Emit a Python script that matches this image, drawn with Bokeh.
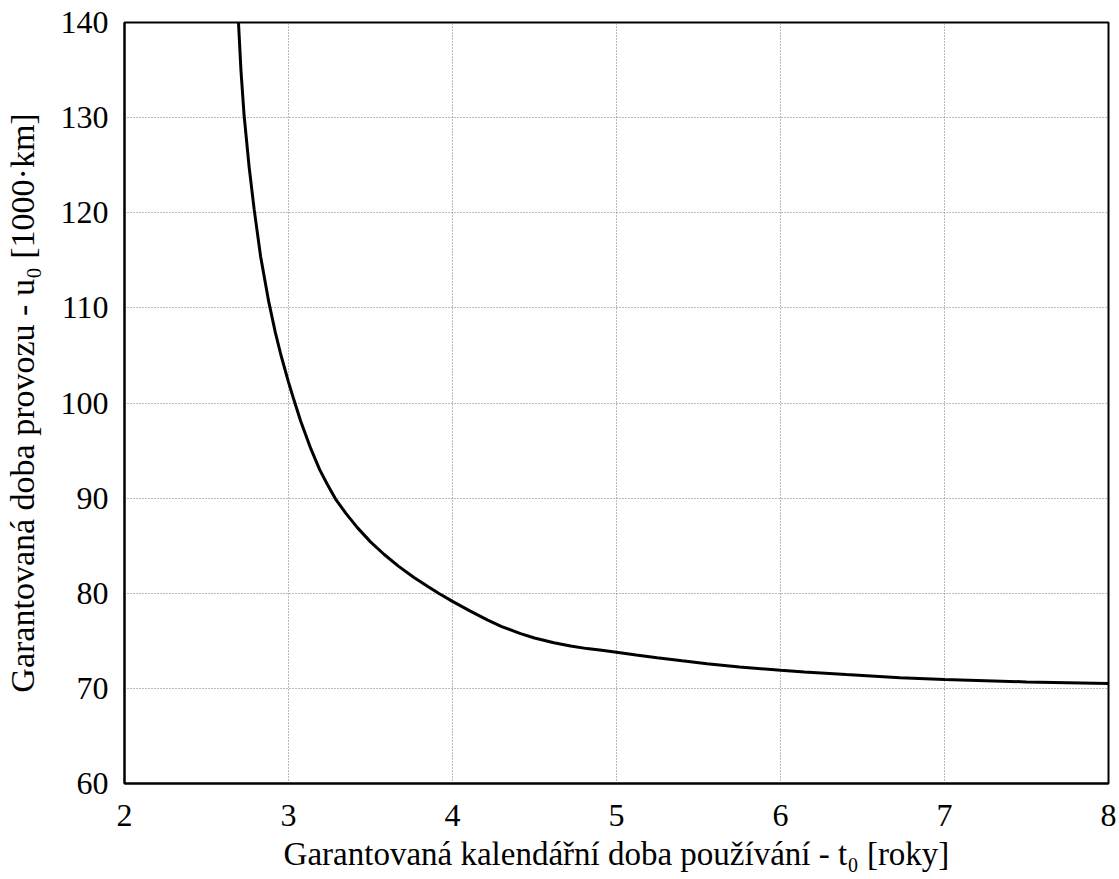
from bokeh.plotting import figure
from bokeh.embed import file_html
from bokeh.resources import INLINE
from bokeh.models import Range1d, FixedTicker

# Data
t_years = [2.695, 2.71, 2.729, 2.76, 2.791, 2.83, 2.88, 2.92, 2.953, 3.0, 3.03, 3.074,
           3.136, 3.19, 3.238, 3.287, 3.35, 3.42, 3.5, 3.582, 3.67, 3.765, 3.85, 3.915,
           4.0, 4.1, 4.212, 4.3, 4.415, 4.5, 4.618, 4.72, 4.821, 4.91, 5.0, 5.12,
           5.247, 5.4, 5.552, 5.75, 6.0, 6.146, 6.4, 6.729, 7.0, 7.5, 8.0]
u_km = [140.0, 135.0, 130.3, 124.8, 120.3, 115.4, 110.6, 107.4, 105.1, 102.2, 100.5, 98.1,
        95.2, 93.0, 91.4, 89.9, 88.4, 86.9, 85.4, 84.1, 82.85, 81.65, 80.7, 80.0,
        79.15, 78.2, 77.2, 76.5, 75.75, 75.3, 74.8, 74.45, 74.18, 74.0, 73.8, 73.52,
        73.23, 72.9, 72.6, 72.24, 71.9, 71.72, 71.45, 71.12, 70.92, 70.68, 70.5]

x_ticks = [2, 3, 4, 5, 6, 7, 8]
y_ticks = [60, 70, 80, 90, 100, 110, 120, 130, 140]

x_label = "Garantovaná kalendářní doba používání - t₀ [roky]"
y_label = "Garantovaná doba provozu - u₀ [1000·km]"

FONT = "Liberation Serif"

p = figure(width=1119, height=879, output_backend="svg", toolbar_location=None,
           x_range=Range1d(2, 8), y_range=Range1d(60, 140),
           min_border_left=124, min_border_right=11, min_border_top=22, min_border_bottom=96)

p.line(t_years, u_km, line_color="black", line_width=3)

p.xaxis.ticker = FixedTicker(ticks=x_ticks)
p.yaxis.ticker = FixedTicker(ticks=y_ticks)

for ax in (p.xaxis[0], p.yaxis[0]):
    ax.major_tick_in = 0
    ax.major_tick_out = 0
    ax.minor_tick_in = 0
    ax.minor_tick_out = 0
    ax.axis_line_color = "black"
    ax.axis_line_width = 2
    ax.major_label_text_font = FONT
    ax.major_label_text_font_size = "32px"
    ax.major_label_text_color = "black"
    ax.axis_label_text_font = FONT
    ax.axis_label_text_font_style = "normal"
    ax.axis_label_text_color = "black"

p.xaxis.axis_label = x_label
p.yaxis.axis_label = y_label
p.xaxis.axis_label_text_font_size = "33px"
p.yaxis.axis_label_text_font_size = "34px"
p.xaxis.major_label_standoff = 21
p.yaxis.major_label_standoff = 16
p.xaxis.axis_label_standoff = 7
p.yaxis.axis_label_standoff = 17

p.grid.grid_line_color = "#777777"
p.grid.grid_line_dash = "1 2"
p.grid.grid_line_width = 1

p.outline_line_color = "black"
p.outline_line_width = 2
p.outline_line_alpha = 1
p.background_fill_color = "white"
p.border_fill_color = "white"

open("out.html", "w").write(file_html(p, INLINE))
